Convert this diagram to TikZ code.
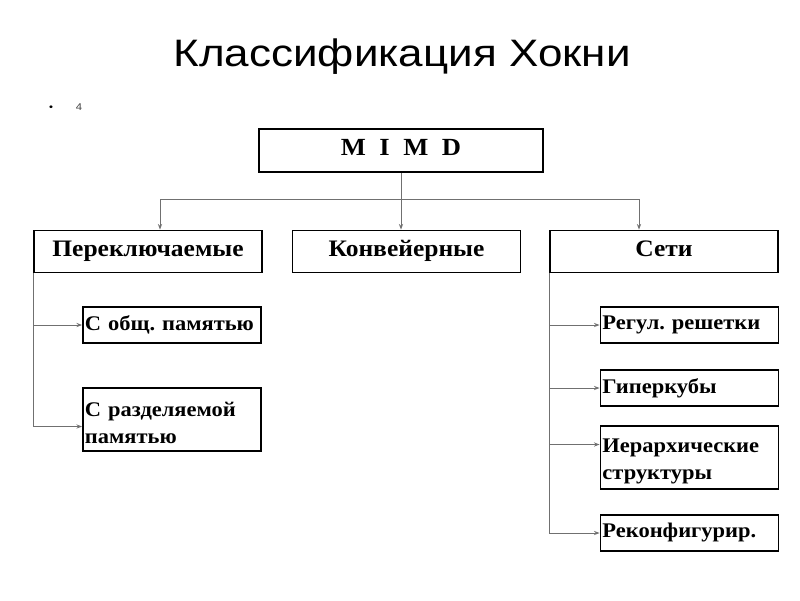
\documentclass[tikz,border=0pt]{standalone}
\usepackage{fontspec}
\setmainfont{Liberation Serif}[FakeStretch=1.08]
\newfontfamily\titlefont{Liberation Sans}[FakeStretch=1.15]
\usetikzlibrary{arrows.meta,calc}
\definecolor{linkgray}{HTML}{707070}
\frenchspacing

\begin{document}
\begin{tikzpicture}[x=0.025cm,y=-0.025cm,>={Stealth[length=4pt,width=3pt]},
 box/.style={draw,line width=1.3pt,inner sep=0pt},
 head/.style={box,font=\fontsize{16.8}{18}\selectfont\bfseries,text height=0.88em,text depth=0.22em,
   minimum width=5.7cm,minimum height=1.05cm},
 sub/.style={box,font=\fontsize{14.8}{19}\selectfont\bfseries,inner xsep=1pt,text width=4.35cm,
   minimum width=4.45cm,minimum height=0.91cm,align=left},
 tall/.style={sub,minimum height=1.575cm,execute at begin node={\rule{0pt}{1.05em}}},
 link/.style={draw=linkgray,line width=0.7pt}]
\useasboundingbox (0,0) rectangle (800,600);
\node[font=\titlefont\fontsize{27.2}{30}\selectfont,anchor=base] (title) at (402,66.7) {Классификация Хокни};
\node[font=\titlefont\fontsize{7}{8}\selectfont] (dot) at (51,108) {\textbullet};
\node[font=\titlefont\fontsize{7}{8}\selectfont,text=darkgray] (num) at (79,107) {4};
\node[box,font=\fontsize{17.5}{20}\selectfont\bfseries,text height=0.9em,text depth=0.2em,
  minimum width=7.1cm,minimum height=1.075cm] (mimd) at (401,150.5) {M\hspace{0.55em}I\hspace{0.55em}M\hspace{0.55em}D};
\node[head] (pere) at (148,251.5) {Переключаемые};
\node[head] (conv) at (406.5,251.5) {Конвейерные};
\node[head] (seti) at (664,251.5) {Сети};
\node[sub] (obsh) at (172,325) {С общ. памятью};
\node[tall] (razd) at (172,419.5) {С разделяемой\\памятью};
\node[sub] (regul) at (689.5,325) {Регул. решетки};
\node[sub] (giper) at (689.5,388) {Гиперкубы};
\node[tall] (ierar) at (689.5,457.5) {Иерархические\\структуры};
\node[sub] (rekon) at (689.5,533) {Реконфигурир.};
\coordinate (busl) at (160,199);
\coordinate (busr) at (639,199);
\draw[link] (busl) -- (busr);
\draw[link,->] (busl) -- (busl |- pere.north);
\draw[link,->] (busr) -- (busr |- seti.north);
\draw[link,->] (mimd.south) -- (mimd.south |- conv.north);
\draw[link,->] (pere.south west) |- (obsh.west);
\draw[link,->] (pere.south west) |- ($(razd.west)+(0,7)$);
\draw[link,->] (seti.south west) |- (regul.west);
\draw[link,->] (seti.south west) |- (giper.west);
\draw[link,->] (seti.south west) |- ($(ierar.west)+(0,-13)$);
\draw[link,->] (seti.south west) |- (rekon.west);
\end{tikzpicture}
\end{document}
